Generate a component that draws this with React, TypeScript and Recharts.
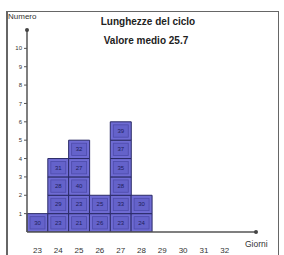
import React from 'react';
import { BarChart, Bar, XAxis, YAxis, LabelList } from 'recharts';

const DAYS = ['23', '24', '25', '26', '27', '28', '29', '30', '31', '32', '33'];
// ids written inside each stacked cell, bottom to top
const CELL_IDS: string[][] = [
    ['30'],
    ['23', '29', '28', '31'],
    ['21', '23', '40', '27', '32'],
    ['26', '25'],
    ['23', '33', '28', '35', '37', '39'],
    ['24', '30'],
    [], [], [], [], [],
];
const Y_TICKS = [1, 2, 3, 4, 5, 6, 7, 8, 9, 10];
const LEVELS = [0, 1, 2, 3, 4, 5];

const data = DAYS.map((d, i) => {
    const row: Record<string, string | number | undefined> = { day: d };
    LEVELS.forEach((l) => {
        const id = CELL_IDS[i][l];
        row[`s${l}`] = id ? 1 : undefined;
        row[`n${l}`] = id;
    });
    return row;
});

const FONT = '"Liberation Sans", Arial, sans-serif';
const TEXT = '#333';

const CellLabel = (props: any) => {
    const { x, y, width, height, value } = props;
    if (value == null || value === '') return null;
    return (
        <g>
            <rect x={x + 3} y={y + 3} width={width - 6} height={height - 6} fill="#6462ca" stroke="#4d4baa" strokeWidth={0.8} />
            <text x={x + width / 2} y={y + height / 2 + 2} textAnchor="middle" fontSize={6} fill="#20205a" fontFamily={FONT}>
                {value}
            </text>
        </g>
    );
};

export default function App() {
    return (
        <div style={{ position: 'absolute', left: 0, top: 0, width: 284, height: 255, background: '#fff', fontFamily: FONT }}>
            <div style={{ position: 'absolute', left: 6, top: 11, width: 270, height: 250, border: '1px solid #666', borderLeftWidth: 2 }} />
            <div style={{ position: 'absolute', left: 8, top: 12, fontSize: 8, color: TEXT }}>Numero</div>
            <div style={{ position: 'absolute', left: 0, width: 296, top: 16, textAlign: 'center', fontSize: 10, fontWeight: 'bold', color: '#222' }}>Lunghezze del ciclo</div>
            <div style={{ position: 'absolute', left: 0, width: 292, top: 35, textAlign: 'center', fontSize: 10, fontWeight: 'bold', color: '#222' }}>Valore medio 25.7</div>
            <BarChart
                width={284}
                height={255}
                data={data}
                margin={{ top: 30, right: 28, left: 0, bottom: 0 }}
                barCategoryGap={0}
                style={{ position: 'absolute', left: 0, top: 0 }}
            >
                <defs>
                    <marker id="dotEnd" markerWidth="6" markerHeight="6" refX="3" refY="3" markerUnits="userSpaceOnUse">
                        <circle cx="3" cy="3" r="2" fill="#444" />
                    </marker>
                </defs>
                <XAxis
                    dataKey="day"
                    height={23}
                    tickLine={false}
                    tickMargin={9}
                    tickFormatter={(v) => (v === '33' ? '' : v)}
                    axisLine={{ stroke: '#555', strokeWidth: 1.5, markerEnd: 'url(#dotEnd)' }}
                    tick={{ fontSize: 8, fill: TEXT, stroke: 'none', fontFamily: FONT }}
                    interval={0}
                    label={{ value: 'Giorni', position: 'right', offset: -11, fontSize: 8.5, fill: TEXT, fontFamily: FONT }}
                />
                <YAxis
                    width={27}
                    domain={[0, 11]}
                    ticks={Y_TICKS}
                    tickSize={3}
                    tickMargin={2}
                    allowDataOverflow
                    axisLine={{ stroke: '#555', strokeWidth: 1.5, markerStart: 'url(#dotEnd)' }}
                    tickLine={{ stroke: '#555' }}
                    tick={{ fontSize: 6, fill: TEXT, stroke: 'none', fontFamily: FONT }}
                />
                {LEVELS.map((l) => (
                    <Bar
                        key={l}
                        dataKey={`s${l}`}
                        stackId="a"
                        fill="#6f6cd4"
                        stroke="#2a2a66"
                        strokeWidth={1}
                        isAnimationActive={false}
                    >
                        <LabelList dataKey={`n${l}`} content={CellLabel} />
                    </Bar>
                ))}
            </BarChart>
        </div>
    );
}
